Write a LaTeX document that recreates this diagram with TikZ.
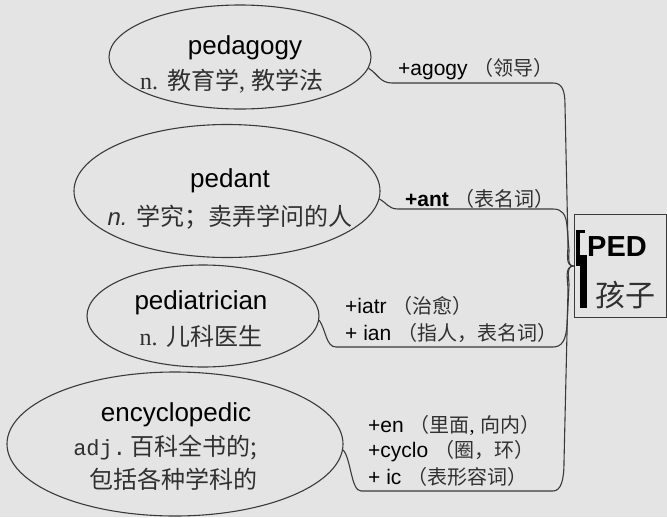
\documentclass[tikz,border=0pt]{standalone}
\usepackage{fontspec}
\setmainfont{Liberation Sans}
\newfontfamily\cjk{Noto Sans CJK SC}
\newfontfamily\serifn{Liberation Serif}
\newfontfamily\monon{Liberation Mono}
\usetikzlibrary{shapes.geometric}
\definecolor{bgc}{HTML}{E4E4E4}
\definecolor{linec}{HTML}{3A3A3A}
\definecolor{cjkc}{HTML}{303030}
\tikzset{
  ell/.style={draw=linec, line width=1.1pt, ellipse, inner sep=0pt},
  conn/.style={draw=linec, line width=1.1pt},
  word/.style={inner sep=0pt, font=\fontsize{26}{28}\selectfont, text=black},
  mean/.style={inner sep=0pt, font=\fontsize{24}{26}\selectfont, text=cjkc},
  lab/.style={inner sep=0pt, anchor=west, font=\fontsize{21}{23}\selectfont, text=black},
  rootbox/.style={draw=linec, line width=0.9pt, minimum width=92pt, minimum height=103pt, inner sep=0pt}
}
\newcommand{\zh}[1]{{\cjk\color{cjkc}#1}}
\newcommand{\zhs}[1]{{\cjk\fontsize{20}{22}\selectfont\color{cjkc}#1}}
\begin{document}
\begin{tikzpicture}[x=1pt,y=-1pt]
\fill[bgc] (0,0) rectangle (667,517);
\useasboundingbox (0,0) rectangle (667,517);

% root box
\node[rootbox] (box) at (620,266) {};
\node[inner sep=0pt, font=\bfseries\fontsize{29}{30}\selectfont] (ped) at (617,247) {PED};
\node[inner sep=0pt, font=\fontsize{30}{32}\selectfont] (child) at (625,295) {\zh{孩子}};
\fill[black] (576,230) rectangle (580,266);
\fill[black] (576,230) rectangle (585,233);
\fill[black] (580,255) rectangle (587,308);

% ellipses
\node[ell, minimum width=262pt, minimum height=104pt] (e1) at (240,57) {};
\node[ell, minimum width=306pt, minimum height=133pt] (e2) at (227,191) {};
\node[ell, minimum width=232pt, minimum height=102pt] (e3) at (203,316) {};
\node[ell, minimum width=336pt, minimum height=144pt] (e4) at (175,444) {};

% words
\node[word] (w1) at (245,48) {pedagogy};
\node[mean] (m1) at (232,81) {{\serifn n.} \zh{教育学}{\serifn ,} \zh{教学法}};
\node[word] (w2) at (230,181) {pedant};
\node[mean] (m2) at (230,217) {{\itshape n.} \zh{学究；卖弄学问的人}};
\node[word] (w3) at (201,303) {pediatrician};
\node[mean] (m3) at (201,336) {{\serifn n.} \zh{儿科医生}};
\node[word] (w4) at (176,415) {encyclopedic};
\node[mean] (m4) at (165,448) {{\monon\fontsize{22}{25}\selectfont adj.}\hspace{4pt}\zh{百科全书的;}};
\node[mean] (m5) at (173,479) {\zh{包括各种学科的}};

% connectors
\draw[conn] (e1.-5) .. controls (378,74) and (380,83) .. (392,83) -- (553,83)
  .. controls (562,83) and (565,90) .. (565,105) -- (568,245) to[out=-90,in=180] (box.west);
\draw[conn] (e2.-3) .. controls (386,202) and (388,209) .. (398,209) -- (553,209)
  .. controls (562,209) and (566,214) .. (567,226) -- (569,250) to[out=-90,in=180] (box.west);
\draw[conn] (e3.-2) .. controls (326,330) and (326,347) .. (336,347) -- (553,347)
  .. controls (562,347) and (566,340) .. (567,325) -- (569,285) to[out=90,in=180] (box.west);
\draw[conn] (e4.-2) .. controls (351,458) and (351,491) .. (361,491) -- (553,491)
  .. controls (561,491) and (564,480) .. (564,462) -- (568,290) to[out=90,in=180] (box.west);

% labels
\node[lab] (l1) at (398,69) {+agogy \zhs{（领导）}};
\node[lab] (l2) at (405,199) {{\bfseries +ant} \zhs{（表名词）}};
\node[lab] (l3) at (345,306) {+iatr \zhs{（治愈）}};
\node[lab] (l4) at (345,333) {+ ian \zhs{（指人，表名词）}};
\node[lab] (l5) at (368,425) {+en \zhs{（里面}{\serifn\fontsize{20}{22}\selectfont ,} \zhs{向内）}};
\node[lab] (l6) at (368,451) {+cyclo \zhs{（圈，环）}};
\node[lab] (l7) at (368,477) {+ ic \zhs{（表形容词）}};
\end{tikzpicture}
\end{document}
